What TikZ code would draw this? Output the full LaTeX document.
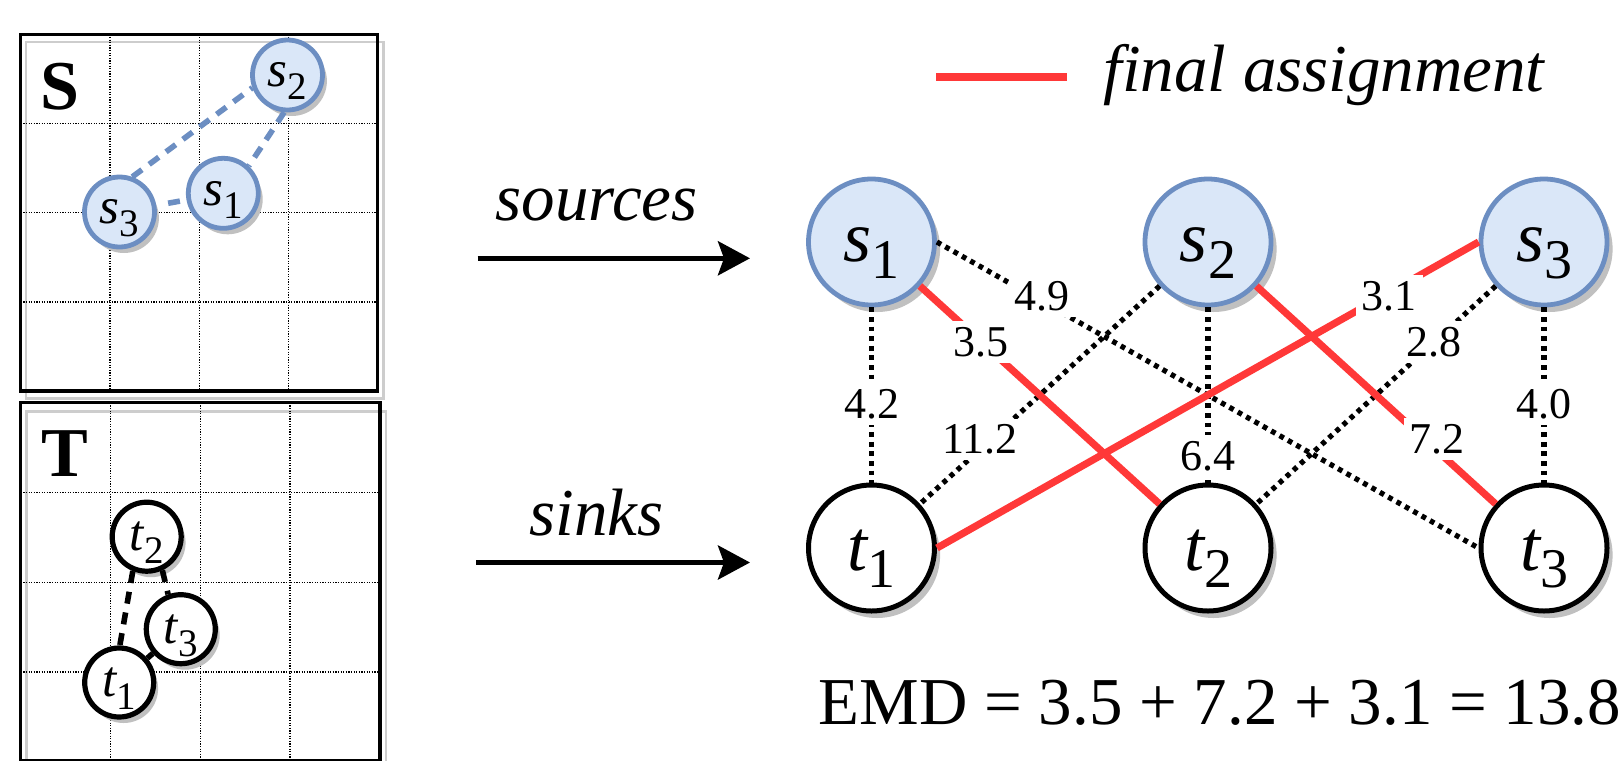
\documentclass[tikz,border=0pt]{standalone}
\usepackage{fontspec}
\setmainfont{Liberation Serif}
\usetikzlibrary{shadows,arrows.meta}
\definecolor{sfill}{RGB}{218,231,248}
\definecolor{sdraw}{RGB}{108,142,194}
\definecolor{ared}{RGB}{255,56,56}
\definecolor{shad}{RGB}{192,192,192}
\definecolor{frameshad}{RGB}{205,205,205}
\newcommand\BigLab[2]{{\fontsize{36}{36}\selectfont\itshape #1}\raisebox{-8.8pt}{\fontsize{28}{28}\selectfont #2}}
\newcommand\SmLab[2]{{\fontsize{25.5}{25.5}\selectfont\itshape #1}\raisebox{-6.5pt}{\fontsize{19.5}{19.5}\selectfont #2}}
\tikzset{
  myshadow/.style={drop shadow={shadow xshift=2.8pt, shadow yshift=-3.5pt, fill=shad, opacity=1}},
  snode/.style={circle, draw=sdraw, fill=sfill, line width=2.4pt, minimum size=63pt, inner sep=0pt, text height=19pt, text depth=0pt, myshadow},
  tnode/.style={circle, draw=black, fill=white, line width=2.5pt, minimum size=63pt, inner sep=0pt, text height=22pt, text depth=0pt, myshadow},
  ssmall/.style={circle, draw=sdraw, fill=sfill, line width=2.4pt, minimum size=35pt, inner sep=0pt, text height=11.7pt, text depth=0pt, drop shadow={shadow xshift=2.2pt, shadow yshift=-3pt, fill=shad, opacity=1}},
  tsmall/.style={circle, draw=black, fill=white, line width=2.6pt, minimum size=34.5pt, inner sep=0pt, text height=14pt, text depth=0pt, drop shadow={shadow xshift=2.2pt, shadow yshift=-3pt, fill=shad, opacity=1}},
  dotline/.style={line width=2.6pt, dash pattern=on 2.4pt off 2.4pt},
  redline/.style={ared, line width=3.6pt},
  lbl/.style={fill=white, inner sep=3pt, font=\fontsize{22}{22}\selectfont},
  sdash/.style={sdraw, line width=2.8pt, dash pattern=on 6pt off 4.5pt},
  tdash/.style={black, line width=2.8pt, dash pattern=on 6pt off 4.5pt},
  gridframe/.style={black, line width=1.6pt},
  gridshadow/.style={frameshad, line width=1.4pt},
  gridline/.style={black, line width=0.55pt, dash pattern=on 0.6pt off 0.7pt},
  bigtext/.style={font=\fontsize{33.5}{33.5}\selectfont},
  arrowline/.style={line width=2.5pt, -{Stealth[length=16pt, width=17pt, inset=3pt]}},
}
\begin{document}
\begin{tikzpicture}[x=0.5pt,y=-0.5pt]
\useasboundingbox (0,0) rectangle (1624,761);
\fill[white] (0,0) rectangle (1624,761);

% ---------- S box ----------
\draw[gridshadow] (26,42) rectangle (383.5,398.5);
\foreach \gx in {110,199.3,288.3} \draw[gridline] (\gx,34.3) -- (\gx,391);
\foreach \gy in {123.5,212.7,302} \draw[gridline] (20.7,\gy) -- (377.7,\gy);
\draw[gridframe] (20.7,34.3) rectangle (377.7,391);
\node[font=\fontsize{35}{35}\selectfont\bfseries] (Slab) at (60.3,86.3) {S};

\node[ssmall] (ls2) at (287.5,75) {\SmLab{s}{2}};
\node[ssmall] (ls1) at (223.3,193.3) {\SmLab{s}{1}};
\node[ssmall] (ls3) at (119.5,212) {\SmLab{s}{3}};
\draw[sdash] (ls3.70) -- (ls2.200);
\draw[sdash] (ls2.265) -- (ls1.47);
\draw[sdash, shorten <=6pt] (ls3) -- (ls1);

% ---------- T box ----------
\begin{scope}
\clip (0,0) rectangle (1624,761);
\draw[gridshadow] (26.5,411.5) rectangle (386,770);
\foreach \gx in {110.7,200.3,290} \draw[gridline] (\gx,402.7) -- (\gx,761);
\foreach \gy in {492.7,582.3,672} \draw[gridline] (20.7,\gy) -- (380,\gy);
\draw[gridframe] (20.7,402.7) rectangle (380,760.5);
\end{scope}
\node[font=\fontsize{35}{35}\selectfont\bfseries] (Tlab) at (65.3,453.7) {T};

\node[tsmall] (lt2) at (146.7,536.7) {\SmLab{t}{2}};
\node[tsmall] (lt3) at (180.8,629.2) {\SmLab{t}{3}};
\node[tsmall] (lt1) at (119.2,682.5) {\SmLab{t}{1}};
\draw[tdash] (lt2.248) -- (lt1.89);
\draw[tdash] (lt2.295) -- (lt3.110);
\draw[tdash] (lt1) -- (lt3);

% ---------- arrows ----------
\coordinate (a1s) at (477.7,258.3);
\coordinate (a1e) at (750,258.3);
\coordinate (a2s) at (476,562.5);
\coordinate (a2e) at (750,562.5);
\draw[arrowline] (a1s) -- (a1e);
\draw[arrowline] (a2s) -- (a2e);
\node[bigtext, anchor=base] (src) at (596.7,220.7) {\itshape sources};
\node[bigtext, anchor=base] (snk) at (596.7,535) {\itshape sinks};

% ---------- legend ----------
\coordinate (lg1) at (936,76.7);
\coordinate (lg2) at (1066.7,76.7);
\draw[ared, line width=4pt] (lg1) -- (lg2);
\node[bigtext, anchor=base west, inner sep=0pt] (leg) at (1103,91.7) {\itshape final assignment};

% ---------- bipartite graph ----------
\node[snode] (s1) at (871.5,242) {\BigLab{s}{1}};
\node[snode] (s2) at (1208,242) {\BigLab{s}{2}};
\node[snode] (s3) at (1544,242) {\BigLab{s}{3}};
\node[tnode] (t1) at (871.5,548) {\BigLab{t}{1}};
\node[tnode] (t2) at (1208,548) {\BigLab{t}{2}};
\node[tnode] (t3) at (1544,548) {\BigLab{t}{3}};

\draw[dotline] (s1) -- (t1);
\draw[dotline] (s1.east) -- (t3.west);
\draw[dotline] (s2) -- (t1);
\draw[dotline] (s2) -- (t2);
\draw[dotline] (s3) -- (t2);
\draw[dotline] (s3) -- (t3);
\draw[redline] (s1) -- (t2);
\draw[redline] (s2) -- (t3);
\draw[redline] (s3.west) -- (t1.east);

\path (s1) -- (t2) node[lbl, pos=0.257] (w35) {3.5};
\path (s1.east) -- (t3.west) node[lbl, pos=0.176, xshift=5pt] (w49) {4.9};
\path (s1) -- (t1) node[lbl, pos=0.551] (w42) {4.2};
\path (s2) -- (t1) node[lbl, pos=0.704, xshift=-5.5pt] (w112) {11.2};
\path (s2) -- (t2) node[lbl, pos=0.849] (w64) {6.4};
\path (s2) -- (t3) node[lbl, pos=0.702, xshift=6.5pt] (w72) {7.2};
\path (s3.west) -- (t1.east) node[lbl, pos=0.176, xshift=3pt] (w31) {3.1};
\path (s3) -- (t2) node[lbl, pos=0.257] (w28) {2.8};
\path (s3) -- (t3) node[lbl, pos=0.551] (w40) {4.0};

% ---------- EMD ----------
\node[bigtext, anchor=base west, inner sep=0pt] (emd) at (818.3,724) {EMD = 3.5 + 7.2 + 3.1 = 13.8};
\end{tikzpicture}
\end{document}
